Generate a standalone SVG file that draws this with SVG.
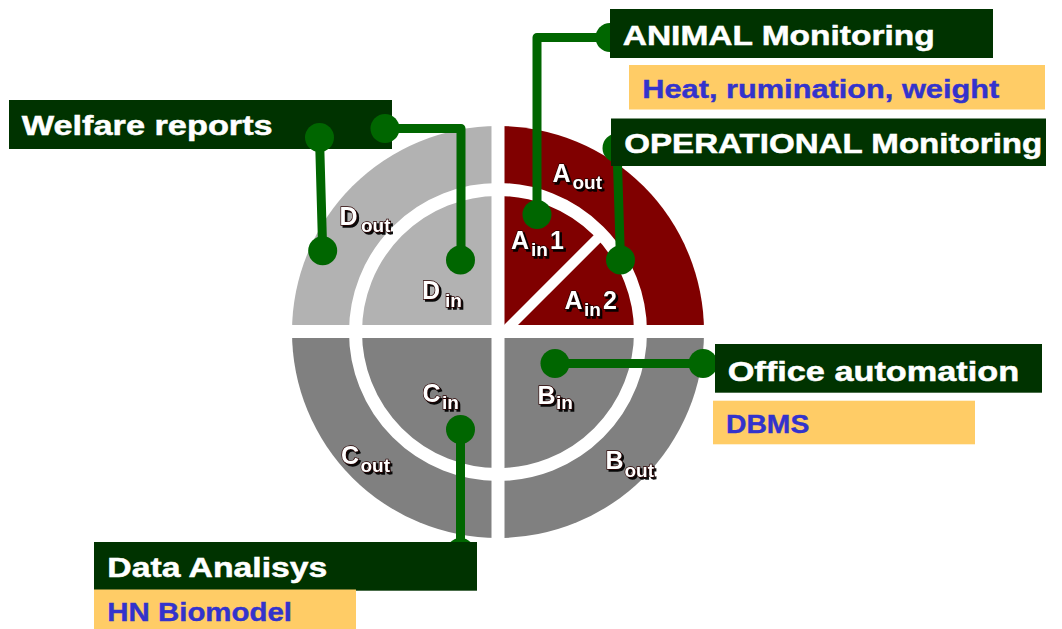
<svg xmlns="http://www.w3.org/2000/svg" width="1062" height="629" viewBox="0 0 1062 629">
  <defs>
    <style>
      .box { fill: #003300; }
      .note { fill: #FFCC66; }
      .title { fill: #ffffff; stroke: #ffffff; stroke-width: 0.5; font-family: "Liberation Sans", Arial, sans-serif; font-weight: bold; font-size: 28px; }
      .detail { fill: #3333CC; stroke: #3333CC; stroke-width: 0.4; font-family: "Liberation Sans", Arial, sans-serif; font-weight: bold; font-size: 26px; }
      .seg { fill: #ffffff; stroke: #2a0000; stroke-width: 1.3; paint-order: stroke; font-family: "Liberation Sans", Arial, sans-serif; font-weight: bold; font-size: 25px; filter: url(#shadow); }
      .sub { font-size: 19px; }
      .wire { fill: none; stroke: #006600; stroke-width: 9; stroke-linejoin: round; stroke-linecap: round; }
      .dot { fill: #006600; }
      .gap { fill: #ffffff; }
    </style>
    <filter id="shadow" x="-20%" y="-30%" width="150%" height="160%">
      <feDropShadow dx="2" dy="2" stdDeviation="0.4" flood-color="#000000" flood-opacity="0.95"/>
    </filter>
  </defs>

  <rect width="1062" height="629" fill="#ffffff"/>

  <!-- four-quadrant wheel, centre (498,332), radius 206 -->
  <g id="wheel">
    <g id="quadrant-D"><path d="M498 332 L292 332 A206 206 0 0 1 498 126 Z" fill="#B2B2B2"/></g>
    <g id="quadrant-A"><path d="M498 332 L498 126 A206 206 0 0 1 704 332 Z" fill="#800000"/></g>
    <g id="quadrant-B"><path d="M498 332 L704 332 A206 206 0 0 1 498 538 Z" fill="#808080"/></g>
    <g id="quadrant-C"><path d="M498 332 L498 538 A206 206 0 0 1 292 332 Z" fill="#808080"/></g>
    <!-- white separators -->
    <circle cx="498" cy="332" r="142.5" fill="none" stroke="#ffffff" stroke-width="13"/>
    <rect class="gap" x="491.5" y="120" width="13" height="424"/>
    <rect class="gap" x="286" y="325" width="424" height="13"/>
    <line x1="503" y1="333" x2="600" y2="236" stroke="#ffffff" stroke-width="10"/>
  </g>

  <!-- Welfare reports (dots sit on top of this box) -->
  <g id="node-welfare">
    <rect class="box" x="9" y="100" width="383" height="49"/>
    <text class="title" x="21.7" y="135" textLength="251" lengthAdjust="spacingAndGlyphs">Welfare reports</text>
  </g>

  <!-- connectors -->
  <g id="connectors">
    <path class="wire" d="M319.5 137.5 L322.7 250.7"/>
    <circle class="dot" cx="319.5" cy="137.5" r="14.5"/>
    <circle class="dot" cx="322.7" cy="250.7" r="14.5"/>

    <path class="wire" d="M385 128.5 H461 V260"/>
    <circle class="dot" cx="385" cy="128.5" r="14.5"/>
    <circle class="dot" cx="460.5" cy="260" r="14.5"/>

    <path class="wire" d="M537 214.5 V37.5 H610"/>
    <circle class="dot" cx="537" cy="214.5" r="14.5"/>
    <circle class="dot" cx="610" cy="37.5" r="14.5"/>

    <path class="wire" d="M617 148 L620.5 260"/>
    <circle class="dot" cx="617" cy="148" r="14.5"/>
    <circle class="dot" cx="620.5" cy="260" r="14.5"/>

    <path class="wire" d="M555 363.5 H703"/>
    <circle class="dot" cx="555" cy="363.5" r="14.5"/>
    <circle class="dot" cx="703" cy="363.5" r="14.5"/>

    <path class="wire" d="M460.5 429.5 V552"/>
    <circle class="dot" cx="460.5" cy="429.5" r="14.5"/>
    <circle class="dot" cx="460.5" cy="552.5" r="14.5"/>
  </g>

  <!-- segment labels -->
  <g id="segment-labels">
    <text class="seg" x="552.5" y="182">A<tspan class="sub" x="572.5" y="188.5">out</tspan></text>
    <text class="seg" x="511" y="248.5">A<tspan class="sub" x="531" y="256">in</tspan><tspan x="550" y="248.5">1</tspan></text>
    <text class="seg" x="564.5" y="308.5">A<tspan class="sub" x="584" y="315.5">in</tspan><tspan x="603" y="308.5">2</tspan></text>
    <text class="seg" x="339.5" y="225">D<tspan class="sub" x="361" y="232">out</tspan></text>
    <text class="seg" x="422" y="298.5">D<tspan class="sub" x="445" y="306.5">in</tspan></text>
    <text class="seg" x="422.5" y="401.5">C<tspan class="sub" x="442" y="408.5">in</tspan></text>
    <text class="seg" x="341" y="463.5">C<tspan class="sub" x="360.5" y="471.5">out</tspan></text>
    <text class="seg" x="537.5" y="403.5">B<tspan class="sub" x="556" y="408.5">in</tspan></text>
    <text class="seg" x="605.5" y="468.5">B<tspan class="sub" x="624.5" y="476.5">out</tspan></text>
  </g>

  <!-- ANIMAL Monitoring -->
  <g id="node-animal">
    <rect class="box" x="610" y="9" width="383" height="49"/>
    <text class="title" x="622.7" y="45" textLength="312" lengthAdjust="spacingAndGlyphs">ANIMAL Monitoring</text>
    <rect class="note" x="629" y="65" width="416" height="44.5"/>
    <text class="detail" x="642.3" y="98.3" textLength="357" lengthAdjust="spacingAndGlyphs">Heat, rumination, weight</text>
  </g>

  <!-- OPERATIONAL Monitoring -->
  <g id="node-operational">
    <rect class="box" x="611" y="118.5" width="435" height="47.5"/>
    <text class="title" x="624.3" y="153.3" textLength="418" lengthAdjust="spacingAndGlyphs">OPERATIONAL Monitoring</text>
  </g>

  <!-- Office automation -->
  <g id="node-office">
    <rect class="box" x="715" y="344" width="327" height="48.7"/>
    <text class="title" x="727.7" y="380.7" textLength="291.5" lengthAdjust="spacingAndGlyphs">Office automation</text>
    <rect class="note" x="713" y="400.7" width="262" height="43.6"/>
    <text class="detail" x="726" y="432.7" textLength="83.3" lengthAdjust="spacingAndGlyphs">DBMS</text>
  </g>

  <!-- Data Analisys -->
  <g id="node-data">
    <rect class="box" x="94" y="542" width="383" height="48.7"/>
    <text class="title" x="107.3" y="577.3" textLength="220" lengthAdjust="spacingAndGlyphs">Data Analisys</text>
    <rect class="note" x="94" y="589.5" width="262" height="39.5"/>
    <text class="detail" x="107.3" y="621" textLength="184.7" lengthAdjust="spacingAndGlyphs">HN Biomodel</text>
  </g>
</svg>
